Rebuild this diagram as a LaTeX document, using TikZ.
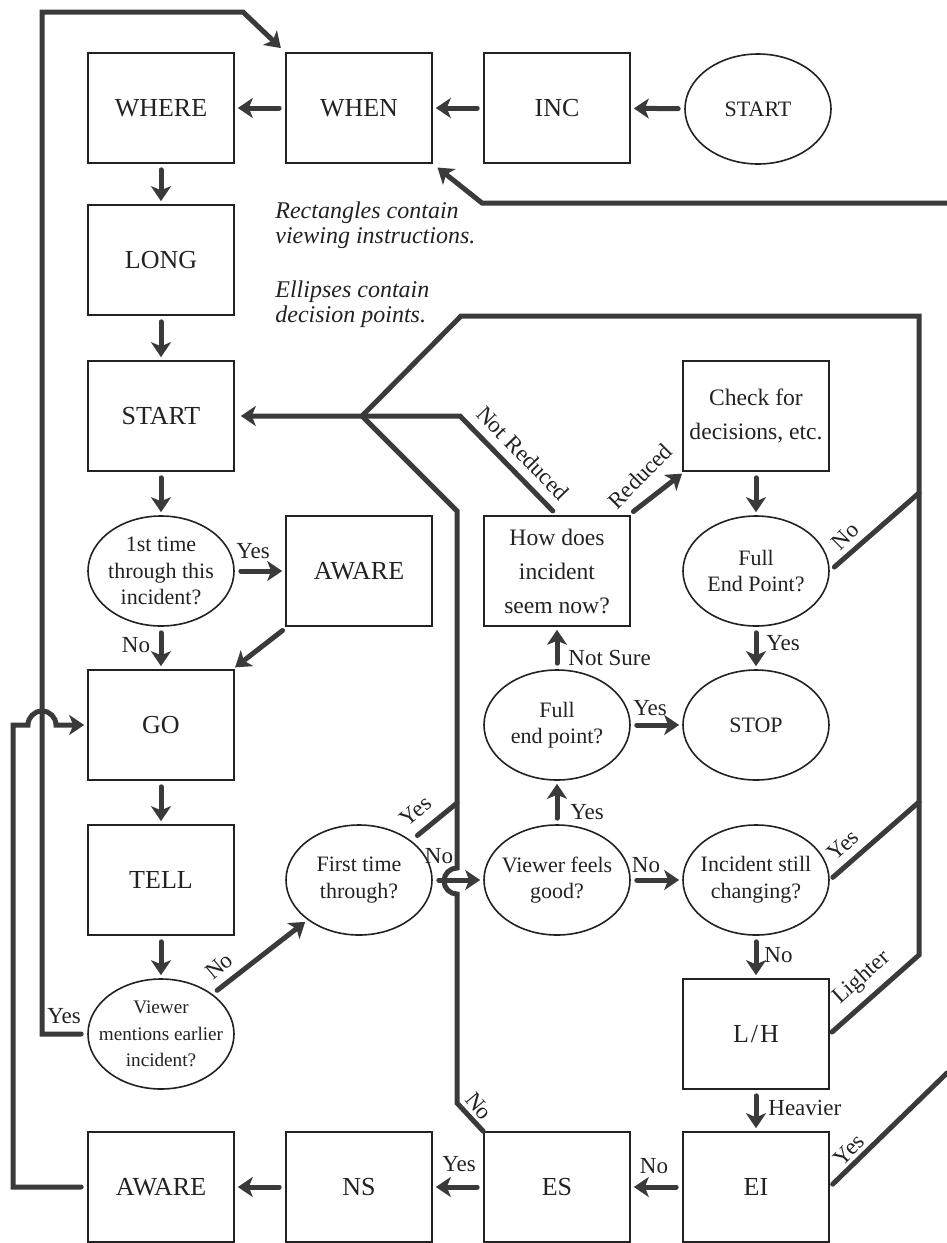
\documentclass[tikz,border=0pt]{standalone}
\usepackage{fontspec}
\setmainfont{Liberation Serif}
\usetikzlibrary{shapes.geometric,arrows.meta}
\definecolor{ink}{HTML}{222222}
\definecolor{wiregray}{HTML}{3A3A3A}
\begin{document}
\begin{tikzpicture}[x=0.5pt, y=-0.5pt,
    instr/.style={draw=ink, line width=0.8pt, minimum width=73pt, minimum height=55pt, inner sep=0pt, text=ink, font=\fontsize{13}{15}\selectfont},
    instrq/.style={instr, align=center, font=\fontsize{11.8}{17}\selectfont},
    decide/.style={ellipse, draw=ink, line width=0.8pt, minimum width=73pt, minimum height=55pt, inner sep=-12pt, align=center, text=ink, font=\fontsize{11}{13.3}\selectfont},
    wire/.style={draw=wiregray, line width=2.5pt, line cap=round},
    flow/.style={wire, -{Stealth[length=7.5pt,width=10pt,inset=2pt]}, shorten >=1.5pt, shorten <=3pt},
    lbl/.style={inner sep=0pt, text=ink, font=\fontsize{11.5}{13}\selectfont},
    note/.style={inner sep=0pt, align=left, text=ink, font=\itshape\fontsize{12}{12.5}\selectfont}]
  \useasboundingbox (0,0) rectangle (947,1243);

  % viewing steps and decision points
  \node[decide] (entry) at (758,109) {START};
  \node[instr] (inc) at (557,108) {INC};
  \node[instr] (when) at (359,108) {WHEN};
  \node[instr] (where) at (161,108) {WHERE};
  \node[instr] (long) at (161,260) {LONG};
  \node[instr] (start) at (161,416) {START};
  \node[decide] (firsttime) at (161,571) {1st time\\through this\\incident?};
  \node[instr] (aware) at (359,571) {AWARE};
  \node[instr] (go) at (161,725) {GO};
  \node[instr] (tell) at (161,880) {TELL};
  \node[decide, font=\fontsize{9.6}{13.3}\selectfont] (mentions) at (161,1034) {Viewer\\mentions earlier\\incident?};
  \node[instr] (awarelow) at (161,1187) {AWARE};
  \node[instr] (ns) at (359,1187) {NS};
  \node[instr] (es) at (557,1187) {ES};
  \node[instr] (ei) at (756,1187) {EI};
  \node[instr] (lh) at (756,1034) {L\kern1pt/\kern1pt H};
  \node[decide] (changing) at (756,880) {Incident still\\changing?};
  \node[decide] (feels) at (557,880) {Viewer feels\\good?};
  \node[decide] (firstagain) at (359,880) {First time\\through?};
  \node[decide] (endpt) at (557,725) {Full\\end point?};
  \node[decide] (stop) at (756,725) {STOP};
  \node[instrq] (seem) at (557,571) {How does\\incident\\seem now?};
  \node[instrq] (check) at (756,416) {Check for\\decisions, etc.};
  \node[decide] (fullend) at (756,571) {Full\\End Point?};

  \node[note, anchor=north west] (rectnote) at (275,201) {Rectangles contain\\viewing instructions.};
  \node[note, anchor=north west] (ellnote) at (275,280) {Ellipses contain\\decision points.};

  % straight steps
  \draw[flow] (entry) -- (inc);
  \draw[flow] (inc) -- (when);
  \draw[flow] (when) -- (where);
  \draw[flow] (where) -- (long);
  \draw[flow] (long) -- (start);
  \draw[flow] (start) -- (firsttime);
  \draw[flow] (firsttime) -- (aware);
  \draw[flow] (firsttime) -- (go);
  \draw[flow] (aware) -- (go);
  \draw[flow] (go) -- (tell);
  \draw[flow] (tell) -- (mentions);
  \draw[flow] (mentions) -- (firstagain);
  \draw[flow] (firstagain) -- (feels);
  \draw[flow] (feels) -- (endpt);
  \draw[flow] (endpt) -- (seem);
  \draw[flow] (endpt) -- (stop);
  \draw[flow] (seem) -- (check);
  \draw[flow] (check) -- (fullend);
  \draw[flow] (fullend) -- (stop);
  \draw[flow] (feels) -- (changing);
  \draw[flow] (changing) -- (lh);
  \draw[flow] (lh) -- (ei);
  \draw[flow] (ei) -- (es);
  \draw[flow] (es) -- (ns);
  \draw[flow] (ns) -- (awarelow);

  % loops
  \coordinate (hub) at (362,416);
  \coordinate (offtop) at (947,203);
  \coordinate (offlow) at (947,1073);
  \draw[flow, shorten >=3pt] (mentions.west) -- (42,1034) -- (42,12) -- (243,12) -- (when.north west);
  \draw[flow] (awarelow.west) -- (13,1187) -- (13,725) -- (28,725) arc[start angle=180, end angle=360, radius=14] -- (go.west);
  \draw[flow, shorten <=0pt, shorten >=3pt] (offtop) -- (482,203) -- (when.south east);
  \draw[flow, shorten >=3pt] (seem.north) -- (460,416) -- (start.east);
  \draw[wire] (es.north west) -- (457,1103) -- (457,894) arc[start angle=90, end angle=270, radius=13] -- (457,511) -- (hub);
  \draw[wire, shorten <=1.5pt] (lh.east) -- (919,955) -- (919,316) -- (461,316) -- (hub);
  \draw[wire, shorten <=3pt] (fullend.east) -- (919,493);
  \draw[wire, shorten <=2pt] (changing.east) -- (919,802);
  \draw[wire, shorten <=4pt] (firstagain.north east) -- (457,803);
  \draw[wire, shorten <=2pt] (ei.east) -- (offlow);

  % branch labels
  \node[lbl] (yesaware) at (253,551) {Yes};
  \node[lbl] (nogo) at (136,645) {No};
  \node[lbl, anchor=west] (notsure) at (568,658) {Not Sure};
  \node[lbl, anchor=west] (yesend) at (570,812) {Yes};
  \node[lbl] (yesstop) at (650,708) {Yes};
  \node[lbl, anchor=west] (yesfull) at (766,643) {Yes};
  \node[lbl] (nochange) at (646,865) {No};
  \node[lbl, rotate=42] (yesstill) at (843,845) {Yes};
  \node[lbl, rotate=45] (nofull) at (845,536) {No};
  \node[lbl, anchor=west] (nolh) at (764,955) {No};
  \node[lbl, rotate=42] (lighter) at (862,978) {Lighter};
  \node[lbl, anchor=west] (heavier) at (768,1108) {Heavier};
  \node[lbl, rotate=45] (yesei) at (849,1150) {Yes};
  \node[lbl] (noes) at (654,1166) {No};
  \node[lbl] (yesns) at (459,1164) {Yes};
  \node[lbl, rotate=-50] (noback) at (479,1106) {No};
  \node[lbl, rotate=40] (nofirst) at (219,966) {No};
  \node[lbl] (yesearlier) at (64,1016) {Yes};
  \node[lbl, rotate=40] (yesagain) at (416,811) {Yes};
  \node[lbl] (nofeels) at (439,856) {No};
  \node[lbl, rotate=45] (reduced) at (640,476) {Reduced};
  \node[lbl, rotate=-46] (notreduced) at (523,453) {Not Reduced};
\end{tikzpicture}
\end{document}
